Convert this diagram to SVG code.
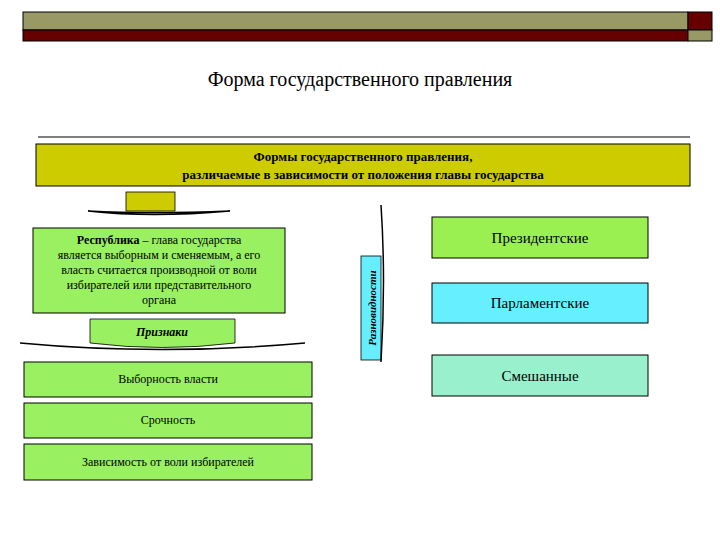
<svg xmlns="http://www.w3.org/2000/svg" width="720" height="540" viewBox="0 0 720 540">
<style>
text{font-family:"Liberation Serif","Times New Roman",serif;fill:#000;text-anchor:middle}
.box{stroke:#000;stroke-width:1}
.g{fill:#99f060}
.t12{font-size:12px}
.t15{font-size:15px}
</style>
<rect width="720" height="540" fill="#fff"/>
<g id="header">
<rect x="23" y="12" width="665" height="18" fill="#999966" stroke="#000"/>
<rect x="23" y="30" width="665" height="11" fill="#660000" stroke="#000"/>
<rect x="688" y="12" width="24" height="18" fill="#660000" stroke="#000"/>
<rect x="688" y="30" width="24" height="11" fill="#999966" stroke="#000"/>
</g>
<text x="360" y="86" style="font-size:20px">Форма государственного правления</text>
<line x1="38" y1="137" x2="690" y2="137" stroke="#000" stroke-width="1.2"/>
<g id="forms">
<rect class="box" x="36" y="144" width="654" height="42" fill="#cccc00"/>
<text x="363" y="161" style="font-size:13px;font-weight:bold">Формы государственного правления,</text>
<text x="363" y="179" style="font-size:13px;font-weight:bold">различаемые в зависимости от положения главы государства</text>
</g>
<g id="connectors">
<rect x="126" y="192" width="49" height="19" fill="#cccc00" stroke="#000" stroke-width="0.8"/>
<path d="M88 211 Q150 218 230 211 L230 211 Q150 214 88 211 Z" fill="#cccc00" stroke="#000" stroke-width="1.5"/>
<path d="M90 319 H235 V343 Q162 352 90 343 Z" fill="#99f060" stroke="#000" stroke-width="0.8"/>
<path d="M20 343 Q160 356 305 343" fill="none" stroke="#000" stroke-width="1.5"/>
<rect x="361" y="256" width="20" height="104" fill="#66eeff" stroke="#000" stroke-width="0.8"/>
<path d="M381 205 Q386 280 381 362" fill="none" stroke="#000" stroke-width="1.5"/>
<text transform="translate(376 308) rotate(-90)" style="font-size:11px;font-weight:bold;font-style:italic">Разновидности</text>
</g>
<g id="republic">
<rect class="box g" x="33" y="228" width="252" height="85"/>
<text class="t12" x="159" y="244"><tspan font-weight="bold">Республика</tspan> – глава государства</text>
<text class="t12" x="159" y="259">является выборным и сменяемым, а его</text>
<text class="t12" x="159" y="274">власть считается производной от воли</text>
<text class="t12" x="159" y="289">избирателей или представительного</text>
<text class="t12" x="159" y="304">органа</text>
</g>
<text class="t12" x="162" y="336" style="font-weight:bold;font-style:italic">Признаки</text>
<g id="vybornost"><rect class="box g" x="24" y="362" width="288" height="35"/><text class="t12" x="168" y="383">Выборность власти</text></g>
<g id="srochnost"><rect class="box g" x="24" y="403" width="288" height="35"/><text class="t12" x="168" y="424">Срочность</text></g>
<g id="zavisimost"><rect class="box g" x="24" y="444" width="288" height="36"/><text class="t12" x="168" y="466">Зависимость от воли избирателей</text></g>
<g id="prezident"><rect class="box" x="432" y="217" width="216" height="41" fill="#99f050"/><text class="t15" x="540" y="243">Президентские</text></g>
<g id="parlament"><rect class="box" x="432" y="283" width="216" height="40" fill="#66f0ff"/><text class="t15" x="540" y="308">Парламентские</text></g>
<g id="smeshannye"><rect class="box" x="432" y="355" width="216" height="41" fill="#99f0cc"/><text class="t15" x="540" y="381">Смешанные</text></g>
</svg>
